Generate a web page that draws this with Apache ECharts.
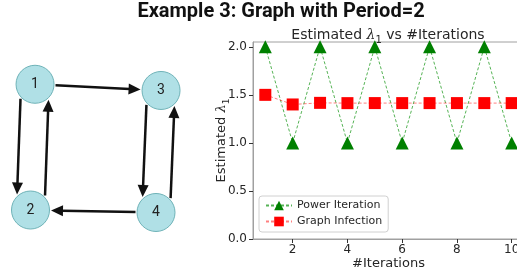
<!DOCTYPE html>
<html><head><meta charset="utf-8">
<script src="https://cdn.jsdelivr.net/npm/echarts@6/dist/echarts.min.js"></script>
<style>html,body{margin:0;padding:0;background:#fff}#c{width:517px;height:276px}</style>
</head><body><div id="c"></div>
<script>
const iterations = [1,2,3,4,5,6,7,8,9,10];
const powerIteration = [2,1,2,1,2,1,2,1,2,1];
const graphInfection = [1.5,1.4,1.4167,1.4138,1.4143,1.4142,1.4142,1.4142,1.4142,1.4142];
const xTicks = [2,4,6,8,10];
const yTicks = [0,0.5,1,1.5,2];
const nodeNames = ['1','2','3','4'];
const nodeX = [0.04,0.004,1.04,1.0];
const nodeY = [1.03,0.016,0.98,-0.004];
const edges = [['1','3'],['1','2'],['2','1'],['3','4'],['4','3'],['4','2']];

const idx = n => nodeNames.indexOf(n);
const edgeData = edges.map(e => {
  const s = idx(e[0]), t = idx(e[1]);
  const back = edges.some(f => f[0] === e[1] && f[1] === e[0]) ? 1 : 0;
  return [nodeX[s], nodeY[s], nodeX[t], nodeY[t], back];
});

const chart = echarts.init(document.getElementById('c'), null, {renderer:'canvas'});
const tickFont = {fontFamily:'DejaVu Sans', fontSize:12, color:'#262626'};
const axisGray = '#a0a0a0';
chart.setOption({
  backgroundColor:'#fff',
  animation:false,
  title:[
    {text:'Example 3: Graph with Period=2', left:281, textAlign:'center', top:2, padding:0,
     textStyle:{fontFamily:'Roboto', fontWeight:'bold', fontSize:20, color:'#111'}},
    {text:'{a|Estimated }{i|λ}{s|1}{a| vs #Iterations}', left:388, textAlign:'center', top:25, padding:0,
     textStyle:{rich:{
       a:{fontFamily:'DejaVu Sans', fontWeight:'normal', fontSize:14, color:'#262626', lineHeight:16},
       i:{fontFamily:'DejaVu Serif', fontWeight:'normal', fontStyle:'italic', fontSize:14, color:'#262626', lineHeight:16},
       s:{fontFamily:'DejaVu Sans', fontWeight:'normal', fontSize:10, color:'#262626', verticalAlign:'bottom', lineHeight:20}
     }}}
  ],
  legend:{
    left:259, top:196, orient:'vertical', itemWidth:26, itemHeight:12, itemGap:5,
    padding:[4,6,5,6], borderColor:'#d0d0d0', borderWidth:1, borderRadius:3,
    backgroundColor:'rgba(255,255,255,0.8)',
    textStyle:{fontFamily:'DejaVu Sans', fontSize:11, color:'#262626'},
    data:['Power Iteration','Graph Infection']
  },
  grid:[
    {left:4.8, top:63.2, width:176.4, height:173.6, show:false, outerBoundsMode:'none'},
    {left:253, top:42, width:271, height:197, show:true, borderColor:axisGray, borderWidth:1, backgroundColor:'transparent', outerBoundsMode:'none', containLabel:false}
  ],
  xAxis:[
    {gridIndex:0, type:'value', min:-0.2, max:1.2, show:false},
    {gridIndex:1, type:'value', min:0.55, max:10.45,
     name:'#Iterations', nameLocation:'middle', nameGap:18, nameMoveOverlap:false,
     nameTextStyle:{fontFamily:'DejaVu Sans', fontSize:13, color:'#262626'},
     axisLine:{show:true, lineStyle:{color:axisGray, width:1}},
     axisTick:{show:true, inside:false, length:4, customValues:xTicks, lineStyle:{color:'#333'}},
     axisLabel:Object.assign({margin:5, customValues:xTicks}, tickFont),
     splitLine:{show:false}}
  ],
  yAxis:[
    {gridIndex:0, type:'value', min:-0.2, max:1.2, show:false},
    {gridIndex:1, type:'value', min:0, max:2.05,
     name:'{a|Estimated }{i|λ}{s|1}', nameLocation:'middle', nameGap:22, nameMoveOverlap:false,
     nameTextStyle:{rich:{
       a:{fontFamily:'DejaVu Sans', fontSize:13, color:'#262626', lineHeight:15},
       i:{fontFamily:'DejaVu Serif', fontStyle:'italic', fontSize:13, color:'#262626', lineHeight:15},
       s:{fontFamily:'DejaVu Sans', fontSize:9, color:'#262626', verticalAlign:'bottom', lineHeight:19}
     }},
     axisLine:{show:true, lineStyle:{color:axisGray, width:1}},
     axisTick:{show:true, inside:false, length:4, customValues:yTicks, lineStyle:{color:'#333'}},
     axisLabel:Object.assign({margin:6, customValues:yTicks, formatter:v=>v.toFixed(1)}, tickFont),
     splitLine:{show:false}}
  ],
  series:[
    {
      type:'custom', coordinateSystem:'cartesian2d', xAxisIndex:0, yAxisIndex:0,
      data:edgeData, encode:{x:[0,2], y:[1,3]}, z:2, silent:true,
      renderItem:function(params, api){
        const a = api.coord([api.value(0), api.value(1)]);
        const b = api.coord([api.value(2), api.value(3)]);
        const off = api.value(4) * 14;
        const dx = b[0]-a[0], dy = b[1]-a[1], L = Math.hypot(dx, dy);
        const ux = dx/L, uy = dy/L;
        const ox = -uy*off, oy = ux*off;
        const r = 20.5;
        const along = Math.sqrt(Math.max(r*r - off*off, 0));
        const p1 = [a[0]+ox+ux*along, a[1]+oy+uy*along];
        const tip = [b[0]+ox-ux*along, b[1]+oy-uy*along];
        const hl = 12, hw = 5.5;
        const base = [tip[0]-ux*hl, tip[1]-uy*hl];
        return {type:'group', children:[
          {type:'line', shape:{x1:p1[0], y1:p1[1], x2:base[0]+ux*1, y2:base[1]+uy*1}, style:{stroke:'#111', lineWidth:2.5}},
          {type:'polygon', shape:{points:[tip, [base[0]-uy*hw, base[1]+ux*hw], [base[0]+uy*hw, base[1]-ux*hw]]}, style:{fill:'#111'}}
        ]};
      }
    },
    {
      type:'scatter', xAxisIndex:0, yAxisIndex:0, z:3,
      symbol:'circle', symbolSize:38,
      itemStyle:{color:'#b0e0e6', borderColor:'#6fb3b8', borderWidth:1, opacity:1},
      label:{show:true, position:'inside', formatter:p=>p.name, fontFamily:'Roboto', fontSize:14, color:'#222'},
      data:nodeNames.map((n,i)=>({name:n, value:[nodeX[i], nodeY[i]]}))
    },
    {
      name:'Power Iteration', type:'line', xAxisIndex:1, yAxisIndex:1,
      data:iterations.map((x,i)=>[x, powerIteration[i]]),
      symbol:'triangle', symbolSize:13, showAllSymbol:true,
      itemStyle:{color:'#008000'},
      lineStyle:{color:'#2ca02c', type:[3,2], width:1, opacity:0.8}, z:3
    },
    {
      name:'Graph Infection', type:'line', xAxisIndex:1, yAxisIndex:1,
      data:iterations.map((x,i)=>[x, graphInfection[i]]),
      symbol:'rect', symbolSize:12, showAllSymbol:true,
      itemStyle:{color:'#ff0000'},
      lineStyle:{color:'#ff0000', type:[3,2], width:1, opacity:0.5}, z:4
    }
  ]
});
</script></body></html>
